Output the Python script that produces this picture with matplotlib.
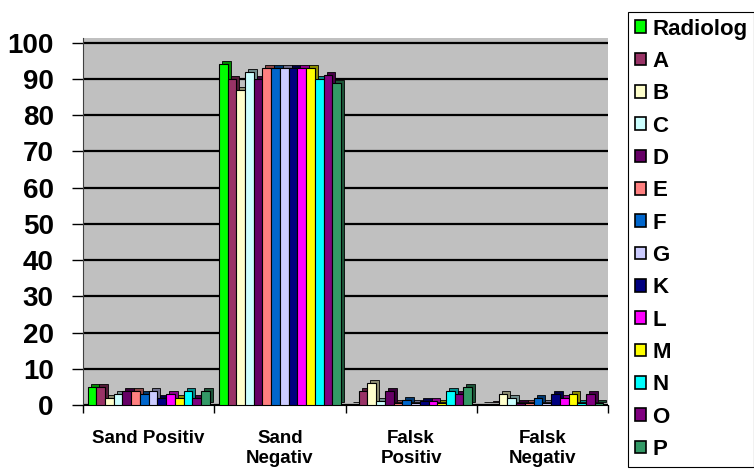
import numpy as np
import matplotlib
matplotlib.use('Agg')
import matplotlib.pyplot as plt
from matplotlib.patches import Patch
from matplotlib.transforms import offset_copy
from matplotlib.colors import to_rgb

plt.rcParams['font.family'] = ['Liberation Sans', 'DejaVu Sans']
plt.rcParams['font.weight'] = 'bold'

categories = ['Sand Positiv', 'Sand\nNegativ', 'Falsk\nPositiv', 'Falsk\nNegativ']
series = ['Radiolog', 'A', 'B', 'C', 'D', 'E', 'F', 'G', 'K', 'L', 'M', 'N', 'O', 'P']
colors = ['#00FF00', '#993366', '#FFFFCC', '#CCFFFF', '#660066', '#FF8080', '#0066CC',
          '#CCCCFF', '#000080', '#FF00FF', '#FFFF00', '#00FFFF', '#800080', '#339966']

# percent per reader, one list per category
sand_pos = [5, 5, 2, 3, 4, 4, 3, 4, 2, 3, 2, 4, 2, 4]
sand_neg = [94, 90, 87, 92, 90, 93, 93, 93, 93, 93, 93, 90, 91, 89]
falsk_pos = [0, 4, 6, 1, 4, 0.5, 1.5, 0.5, 1, 1, 0.5, 4, 3, 5]
falsk_neg = [0, 0.3, 3, 2, 0.5, 0.5, 2, 0.5, 3, 2, 3, 0.5, 3, 0.5]

values = np.array([sand_pos, sand_neg, falsk_pos, falsk_neg]).T  # series x category

fig = plt.figure(figsize=(7.54, 4.74), dpi=100)
ax = fig.add_axes([83 / 754, 69 / 474, 525 / 754, 367 / 474])
ax.set_facecolor('#C0C0C0')

x = np.arange(len(categories))
n = len(series)
width = 0.0665
offsets = (np.arange(n) - (n - 1) / 2) * width

# fake 3d: darker block shifted up/right behind each bar
depth = offset_copy(ax.transData, fig=fig, x=3, y=3, units='dots')
for i in range(n):
    dark = tuple(c * 0.55 for c in to_rgb(colors[i]))
    ax.bar(x + offsets[i], values[i], width, color=dark, edgecolor='black',
           linewidth=0.6, transform=depth, zorder=2)
    ax.bar(x + offsets[i], values[i], width, color=colors[i], edgecolor='black',
           linewidth=0.8, zorder=3)

ax.set_xlim(-0.5, 3.5)
ax.set_ylim(0, 101.3)
ax.set_yticks(np.arange(0, 101, 10))
ax.yaxis.grid(True, color='black', linewidth=1.6)
ax.set_axisbelow(True)

ax.set_xticks(x)
ax.set_xticklabels(categories, fontsize=13.5, fontweight='bold', linespacing=1.25)
ax.set_xticks(np.arange(-0.5, 4, 1), minor=True)
ax.tick_params(axis='x', which='major', length=0, pad=18)
ax.tick_params(axis='x', which='minor', length=6, width=1, color='black')
ax.tick_params(axis='y', length=8, width=1, color='black', labelsize=20, pad=13)
for lbl in ax.get_yticklabels():
    lbl.set_fontweight('bold')

for side in ['top', 'right']:
    ax.spines[side].set_visible(False)
ax.spines['left'].set_color('#404040')
ax.spines['bottom'].set_color('black')

handles = [Patch(facecolor=c, edgecolor='black', linewidth=1.2) for c in colors]
leg = fig.legend(handles, series, loc='upper left', bbox_to_anchor=(628 / 754, 1 - 12 / 474),
                 frameon=True, fancybox=False, edgecolor='black', framealpha=1,
                 prop={'weight': 'bold', 'size': 16}, handlelength=0.5, handleheight=0.5,
                 handletextpad=0.3, labelspacing=0.51, borderpad=0.3, borderaxespad=0)
leg.get_frame().set_linewidth(0.8)

fig.savefig('out.png', dpi=100)
